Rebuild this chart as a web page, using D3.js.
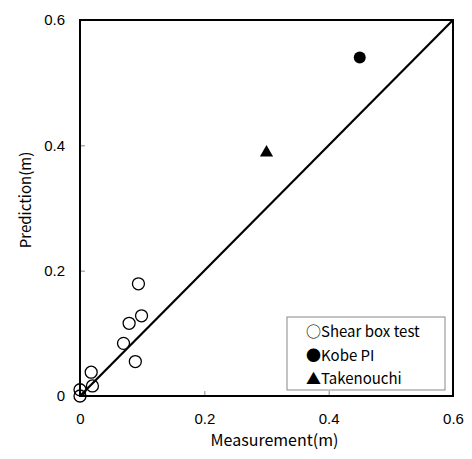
<!DOCTYPE html>
<html>
<head>
<meta charset="utf-8">
<script src="https://cdn.jsdelivr.net/npm/d3@7"></script>
<style>
  body { margin: 0; background: #fff; }
  svg text { font-family: "Noto Sans CJK JP", "DejaVu Sans", sans-serif; fill: #000; }
</style>
</head>
<body>
<div id="chart"></div>
<script>
// data
var shearX = [0.094, 0.099, 0.079, 0.070, 0.089, 0.018, 0.020, 0.000, 0.000];
var shearY = [0.179, 0.128, 0.116, 0.084, 0.055, 0.038, 0.016, 0.010, 0.000];
var kobeX = [0.45];
var kobeY = [0.54];
var takeX = [0.30];
var takeY = [0.39];
var tickValues = [0, 0.2, 0.4, 0.6];
var legendLabels = ["○Shear box test", "●Kobe PI", "▲Takenouchi"];

var margin = {top: 20, right: 19, bottom: 63, left: 80};
var W = 472, H = 459;
var width = W - margin.left - margin.right;
var height = H - margin.top - margin.bottom;

var svg = d3.select("#chart")
  .append("svg")
  .attr("width", W)
  .attr("height", H)
  .append("g")
  .attr("transform", "translate(" + margin.left + "," + margin.top + ")");

var x = d3.scaleLinear().domain([0, 0.6]).range([0, width]);
var y = d3.scaleLinear().domain([0, 0.6]).range([height, 0]);

var fmt = d => d === 0 ? "0" : d3.format(".1f")(d);

// axes with inward ticks
var xAxis = svg.append("g")
  .attr("transform", "translate(0," + height + ")")
  .call(d3.axisBottom(x).tickValues(tickValues).tickSize(-5).tickPadding(17).tickFormat(fmt));
var yAxis = svg.append("g")
  .call(d3.axisLeft(y).tickValues(tickValues).tickSize(-5).tickPadding(15).tickFormat(fmt));
[xAxis, yAxis].forEach(function(a) {
  a.select(".domain").remove();
  a.selectAll(".tick line").attr("stroke", "#888");
  a.selectAll(".tick text").style("font-size", "15px").style("font-family", "'Liberation Sans', Arimo, sans-serif");
});

// frame
svg.append("rect")
  .attr("width", width)
  .attr("height", height)
  .attr("fill", "none")
  .attr("stroke", "#000")
  .attr("stroke-width", 2);

// 1:1 line
svg.append("line")
  .attr("x1", x(0)).attr("y1", y(0))
  .attr("x2", x(0.6)).attr("y2", y(0.6))
  .attr("stroke", "#000")
  .attr("stroke-width", 2.2);

// shear box test
svg.selectAll(".shear")
  .data(shearX.map((d, i) => [d, shearY[i]]))
  .enter().append("circle")
  .attr("cx", d => x(d[0]))
  .attr("cy", d => y(d[1]))
  .attr("r", 6)
  .attr("fill", "none")
  .attr("stroke", "#000")
  .attr("stroke-width", 1.3);

// Kobe PI
svg.selectAll(".kobe")
  .data(kobeX.map((d, i) => [d, kobeY[i]]))
  .enter().append("circle")
  .attr("cx", d => x(d[0]))
  .attr("cy", d => y(d[1]))
  .attr("r", 6)
  .attr("fill", "#000");

// Takenouchi
svg.selectAll(".take")
  .data(takeX.map((d, i) => [d, takeY[i]]))
  .enter().append("path")
  .attr("d", d3.symbol().type(d3.symbolTriangle).size(75))
  .attr("transform", d => "translate(" + x(d[0]) + "," + (y(d[1]) + 1) + ")")
  .attr("fill", "#000");

// legend
var lg = svg.append("g").attr("transform", "translate(207,297)");
lg.append("rect")
  .attr("width", 158)
  .attr("height", 73)
  .attr("fill", "#fff")
  .attr("stroke", "#888")
  .attr("stroke-width", 1);
lg.selectAll("text")
  .data(legendLabels)
  .enter().append("text")
  .attr("x", 19)
  .attr("y", (d, i) => 15 + i * 23.5)
  .attr("dy", "0.35em")
  .style("font-size", "15px")
  .text(d => d);

// axis titles
svg.append("text")
  .attr("x", width / 2 + 8)
  .attr("y", height + 50)
  .attr("text-anchor", "middle")
  .style("font-size", "16px")
  .text("Measurement(m)");
svg.append("text")
  .attr("transform", "translate(-49," + (height / 2 - 8) + ") rotate(-90)")
  .attr("text-anchor", "middle")
  .style("font-size", "15px")
  .text("Prediction(m)");
</script>
</body>
</html>
